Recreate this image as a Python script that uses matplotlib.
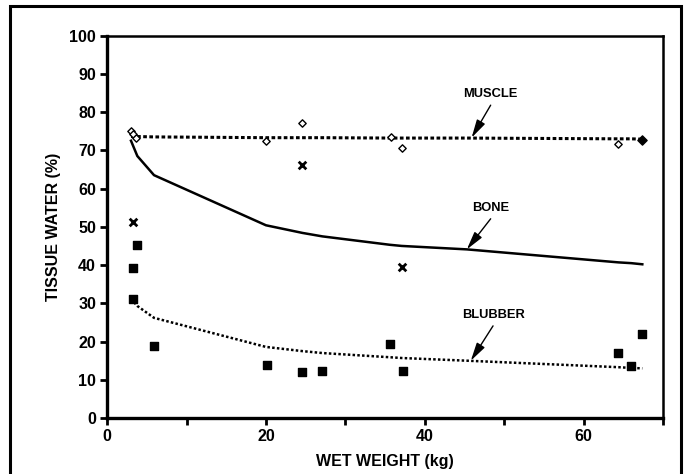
"""
Tissue water content vs. wet weight for muscle, bone and blubber,
with fitted curves for each tissue type.
"""
import matplotlib
matplotlib.use('Agg')
import matplotlib.pyplot as plt
from matplotlib.patches import Rectangle

plt.rcParams['font.family'] = ['Liberation Sans', 'DejaVu Sans']
plt.rcParams['font.weight'] = 'bold'

# ---------------------------------------------------------------------------
# Observed samples
# ---------------------------------------------------------------------------
muscle_x = [3.0, 3.3, 3.6, 20.0, 24.5, 35.7, 37.1, 64.4]
muscle_y = [75.0, 74.2, 73.2, 72.5, 77.2, 73.6, 70.5, 71.6]
muscle_last_x = [67.4]
muscle_last_y = [72.8]

bone_x = [3.2, 24.6, 37.1]
bone_y = [51.2, 66.2, 39.5]

blubber_x = [3.2, 3.2, 3.8, 5.9, 20.1, 24.6, 27.1, 35.6, 37.2, 64.4, 66.0, 67.4]
blubber_y = [39.3, 31.0, 45.3, 18.8, 13.8, 12.0, 12.4, 19.4, 12.2, 17.1, 13.5, 22.0]

# ---------------------------------------------------------------------------
# Fitted curves (evaluated at the sample weights)
# ---------------------------------------------------------------------------
fit_x = [3.0, 3.8, 5.9, 20.0, 24.6, 27.1, 35.6, 37.1, 45.3, 64.4, 66.0, 67.4]
muscle_fit = [73.6, 73.6, 73.5, 73.3, 73.3, 73.3, 73.2, 73.2, 73.2, 73.0, 73.0, 72.9]
bone_fit = [72.5, 68.5, 63.5, 50.4, 48.4, 47.5, 45.3, 45.0, 44.1, 40.7, 40.5, 40.2]
blubber_fit = [31.2, 29.3, 26.2, 18.6, 17.5, 17.0, 15.9, 15.7, 15.0, 13.3, 13.1, 13.0]

fit_labels = ['MUSCLE', 'BONE', 'BLUBBER']
label_xy = [(48.3, 84.6), (48.3, 54.9), (48.6, 26.9)]
arrow_tip = [(45.9, 73.3), (45.3, 44.1), (45.8, 15.0)]

fig = plt.figure(figsize=(6.87, 4.74), dpi=100)
ax = fig.add_axes([0.156, 0.118, 0.809, 0.807])

# outer border around the whole figure
fig.patches.append(Rectangle((0.0145, -0.02), 0.977, 1.008, transform=fig.transFigure,
                             fill=False, edgecolor='black', linewidth=2.2))

ax.plot(fit_x, muscle_fit, color='black', linestyle=(0, (1.2, 0.8)), linewidth=2.2)
ax.plot(fit_x, bone_fit, color='black', linestyle='-', linewidth=1.8)
ax.plot(fit_x, blubber_fit, color='black', linestyle=(0, (1.0, 0.9)), linewidth=1.8)

ax.scatter(muscle_x, muscle_y, marker='D', s=14, facecolors='white',
           edgecolors='black', linewidths=1.0, zorder=3)
ax.scatter(muscle_last_x, muscle_last_y, marker='D', s=22, color='black', zorder=3)
ax.scatter(bone_x, bone_y, marker='x', s=30, color='black', linewidths=2.0, zorder=3)
ax.scatter(blubber_x, blubber_y, marker='s', s=32, color='black', zorder=3)

for text, (tx, ty), (px, py) in zip(fit_labels, label_xy, arrow_tip):
    ax.text(tx, ty, text, ha='center', va='center', fontsize=9.3, fontweight='bold')
    ax.annotate('', xy=(px, py), xytext=(tx, ty - 2.8),
                arrowprops=dict(arrowstyle='-|>,head_length=1.1,head_width=0.28',
                                color='black', linewidth=1.0, shrinkA=0, shrinkB=0))

ax.set_xlim(0, 70)
ax.set_ylim(0, 100)
ax.set_xticks(range(0, 71, 10))
ax.set_xticklabels(['0', '', '20', '', '40', '', '60', ''])
ax.set_yticks(range(0, 101, 10))

for side in ['left', 'bottom']:
    ax.spines[side].set_linewidth(2.4)
for side in ['top', 'right']:
    ax.spines[side].set_linewidth(1.8)

ax.tick_params(direction='out', length=5, width=2, labelsize=11.5, pad=3)
for lbl in ax.get_xticklabels() + ax.get_yticklabels():
    lbl.set_fontweight('bold')

ax.set_xlabel('WET WEIGHT (kg)', fontsize=11.5, fontweight='bold', labelpad=7)
ax.set_ylabel('TISSUE WATER (%)', fontsize=11.5, fontweight='bold', labelpad=6)

plt.savefig('out.png', dpi=100)
plt.close()
